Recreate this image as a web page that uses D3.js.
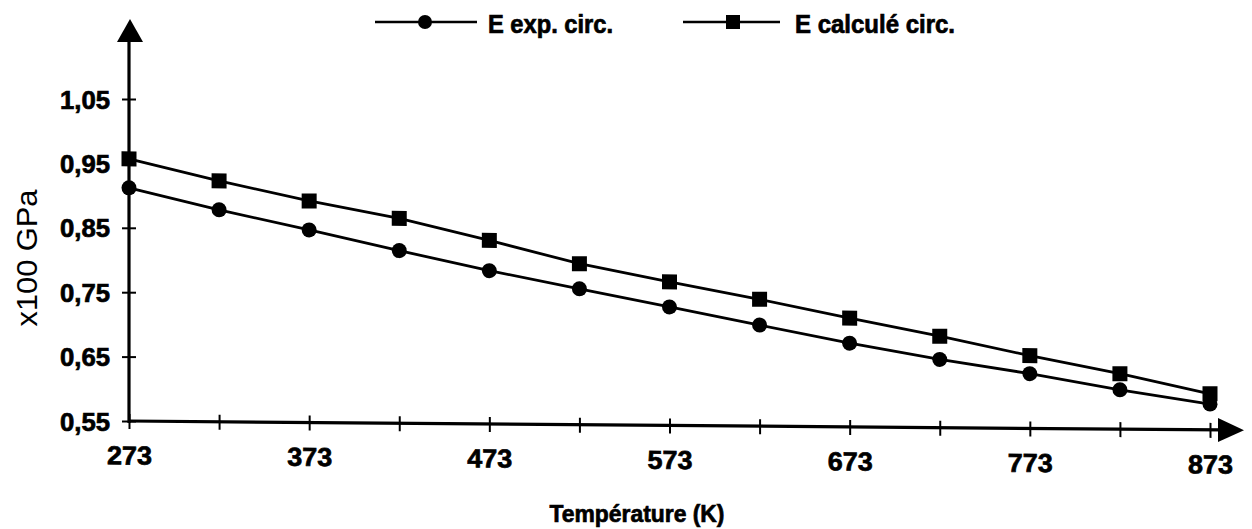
<!DOCTYPE html>
<html><head><meta charset="utf-8">
<script src="https://cdn.jsdelivr.net/npm/d3@7"></script>
<style>
html,body{margin:0;padding:0;background:#fff;}
svg{display:block;font-family:"Liberation Sans",Arial,sans-serif;}
</style></head>
<body>
<svg id="chart" width="1252" height="529"></svg>
<script>
// ---- data ----
const temperatures = [273, 323, 373, 423, 473, 523, 573, 623, 673, 723, 773, 823, 873];
const eExp = [0.912, 0.879, 0.849, 0.818, 0.788, 0.761, 0.734, 0.707, 0.680, 0.656, 0.635, 0.611, 0.590];
const eCalc = [0.957, 0.924, 0.894, 0.868, 0.835, 0.800, 0.773, 0.747, 0.719, 0.692, 0.663, 0.636, 0.606];
const xTickValues = [273, 323, 373, 423, 473, 523, 573, 623, 673, 723, 773, 823, 873];
const xTickLabels = ["273", "", "373", "", "473", "", "573", "", "673", "", "773", "", "873"];
const yTickValues = [0.55, 0.65, 0.75, 0.85, 0.95, 1.05];
const yTickLabels = ["0,55", "0,65", "0,75", "0,85", "0,95", "1,05"];
const seriesNames = ["E exp. circ.", "E calculé circ."];
const xTitle = "Température (K)";
const yTitle = "x100 GPa";

const svg = d3.select("#chart");
const x = d3.scaleLinear().domain([273, 873]).range([129, 1210]);
const y = d3.scaleLinear().domain([0.55, 1.05]).range([421, 99]);
const heavy = sel => sel.attr("font-weight", "bold").attr("stroke", "#000").attr("stroke-width", 0.7)
  .attr("fill", "#000").attr("font-family", "Liberation Sans, Arial, sans-serif");

// slight slope of the scanned original's horizontal axis
const plot = svg.append("g")
  .attr("transform", "translate(129,421) skewY(0.47) translate(-129,-421)");

// x axis
const xAxis = plot.append("g").attr("transform", "translate(0,421)")
  .call(d3.axisBottom(x).tickValues(xTickValues)
    .tickFormat((d, i) => xTickLabels[i]).tickSizeOuter(0).tickSizeInner(7).tickPadding(18));
xAxis.select(".domain").remove();
xAxis.selectAll(".tick line").attr("y1", -7).attr("y2", 8).attr("stroke", "#000").attr("stroke-width", 2);
xAxis.selectAll(".tick text").attr("font-size", 26).call(heavy)
  .attr("dy", "0.71em").attr("textLength", 45).attr("lengthAdjust", "spacingAndGlyphs");
plot.append("line").attr("x1", 129).attr("x2", 1222).attr("y1", 421).attr("y2", 421)
  .attr("stroke", "#000").attr("stroke-width", 3.2);
plot.append("path").attr("d", "M1218,409 L1244,421 L1218,433 Z").attr("fill", "#000");

// y axis
const yAxis = svg.append("g").attr("transform", "translate(129,0)")
  .call(d3.axisLeft(y).tickValues(yTickValues)
    .tickFormat((d, i) => yTickLabels[i]).tickSizeOuter(0).tickSizeInner(7).tickPadding(12));
yAxis.select(".domain").remove();
yAxis.selectAll(".tick line").attr("x1", -7).attr("x2", 7).attr("stroke", "#000").attr("stroke-width", 2);
yAxis.selectAll(".tick text").attr("font-size", 25).call(heavy)
  .attr("dy", "0.36em").attr("textLength", 50).attr("lengthAdjust", "spacingAndGlyphs");
svg.append("line").attr("x1", 129).attr("x2", 129).attr("y1", 423).attr("y2", 40)
  .attr("stroke", "#000").attr("stroke-width", 3.2);
svg.append("path").attr("d", "M117,42 L130,19 L143,42 Z").attr("fill", "#000");

// data
const line = d3.line().x((d, i) => x(temperatures[i])).y(d => y(d));
plot.append("path").datum(eExp).attr("d", line).attr("fill", "none")
  .attr("stroke", "#000").attr("stroke-width", 2.8);
plot.append("path").datum(eCalc).attr("d", line).attr("fill", "none")
  .attr("stroke", "#000").attr("stroke-width", 2.8);
plot.selectAll("circle.exp").data(eExp).enter().append("circle").attr("class", "exp")
  .attr("cx", (d, i) => x(temperatures[i])).attr("cy", d => y(d)).attr("r", 7.5).attr("fill", "#000");
const sq = 15;
plot.selectAll("rect.calc").data(eCalc).enter().append("rect").attr("class", "calc")
  .attr("x", (d, i) => x(temperatures[i]) - sq / 2).attr("y", d => y(d) - sq / 2)
  .attr("width", sq).attr("height", sq).attr("fill", "#000");

// titles
svg.append("text").attr("x", 637).attr("y", 522).attr("text-anchor", "middle")
  .attr("font-size", 24).call(heavy).attr("textLength", 175)
  .attr("lengthAdjust", "spacingAndGlyphs").text(xTitle);
svg.append("text").attr("transform", "translate(37,258) rotate(-90)").attr("text-anchor", "middle")
  .attr("font-size", 30).attr("textLength", 137).attr("lengthAdjust", "spacingAndGlyphs").text(yTitle);

// legend
const legend = svg.append("g");
const legItems = [
  {name: seriesNames[0], x1: 375, x2: 477, mx: 425, tx: 488, tl: 125, shape: "circle"},
  {name: seriesNames[1], x1: 683, x2: 780, mx: 733, tx: 795, tl: 160, shape: "square"}
];
legItems.forEach(it => {
  legend.append("line").attr("x1", it.x1).attr("x2", it.x2).attr("y1", 22).attr("y2", 22)
    .attr("stroke", "#000").attr("stroke-width", 2.5);
  if (it.shape === "circle") {
    legend.append("circle").attr("cx", it.mx).attr("cy", 22).attr("r", 7).attr("fill", "#000");
  } else {
    legend.append("rect").attr("x", it.mx - 7).attr("y", 15).attr("width", 14).attr("height", 14).attr("fill", "#000");
  }
  legend.append("text").attr("x", it.tx).attr("y", 33).attr("font-size", 25).call(heavy)
    .attr("textLength", it.tl).attr("lengthAdjust", "spacingAndGlyphs").text(it.name);
});
</script>
</body></html>
